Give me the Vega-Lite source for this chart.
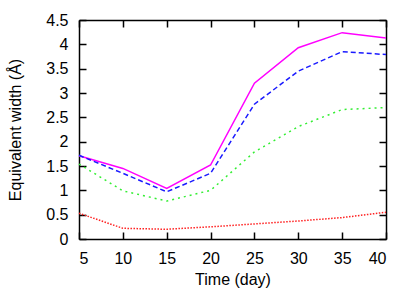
{
  "$schema": "https://vega.github.io/schema/vega-lite/v6.json",
  "width": 307,
  "height": 219,
  "autosize": {"type": "none"},
  "padding": {"left": 79, "top": 20, "right": 29, "bottom": 52},
  "background": "white",
  "config": {
    "view": {"stroke": null},
    "axis": {
      "grid": false,
      "domainColor": "black",
      "tickColor": "black",
      "tickSize": -7,
      "domainWidth": 1.5,
      "tickWidth": 1.5,
      "labelFont": "Liberation Sans",
      "labelFontSize": 16,
      "labelColor": "black",
      "titleFont": "Liberation Sans",
      "titleFontSize": 16,
      "titleFontWeight": "normal",
      "titleColor": "black"
    }
  },
  "data": {
    "values": [
      {"series": "S1", "day": 5, "ew": 1.71},
      {"series": "S1", "day": 10, "ew": 1.45},
      {"series": "S1", "day": 15, "ew": 1.04},
      {"series": "S1", "day": 20, "ew": 1.52},
      {"series": "S1", "day": 25, "ew": 3.2},
      {"series": "S1", "day": 30, "ew": 3.93},
      {"series": "S1", "day": 35, "ew": 4.24},
      {"series": "S1", "day": 40, "ew": 4.13},
      {"series": "S2", "day": 5, "ew": 1.72},
      {"series": "S2", "day": 10, "ew": 1.35},
      {"series": "S2", "day": 15, "ew": 0.97},
      {"series": "S2", "day": 20, "ew": 1.35},
      {"series": "S2", "day": 25, "ew": 2.77},
      {"series": "S2", "day": 30, "ew": 3.45},
      {"series": "S2", "day": 35, "ew": 3.85},
      {"series": "S2", "day": 40, "ew": 3.79},
      {"series": "S3", "day": 5, "ew": 1.54},
      {"series": "S3", "day": 10, "ew": 0.99},
      {"series": "S3", "day": 15, "ew": 0.78},
      {"series": "S3", "day": 20, "ew": 1.0},
      {"series": "S3", "day": 25, "ew": 1.79},
      {"series": "S3", "day": 30, "ew": 2.31},
      {"series": "S3", "day": 35, "ew": 2.66},
      {"series": "S3", "day": 40, "ew": 2.7},
      {"series": "S4", "day": 5, "ew": 0.53},
      {"series": "S4", "day": 10, "ew": 0.22},
      {"series": "S4", "day": 15, "ew": 0.2},
      {"series": "S4", "day": 20, "ew": 0.25},
      {"series": "S4", "day": 25, "ew": 0.31},
      {"series": "S4", "day": 30, "ew": 0.37},
      {"series": "S4", "day": 35, "ew": 0.44},
      {"series": "S4", "day": 40, "ew": 0.55}
    ]
  },
  "resolve": {"axis": {"x": "independent", "y": "independent"}},
  "layer": [
    {
      "transform": [{"filter": "datum.series === 'S1'"}],
      "mark": {"type": "line", "strokeWidth": 1.5, "color": "#ff00ff"},
      "encoding": {
        "x": {
          "field": "day", "type": "quantitative",
          "scale": {"domain": [5, 40], "nice": false, "zero": false},
          "axis": {
            "orient": "bottom", "title": "Time (day)",
            "tickCount": 7, "format": "d",
            "labelBaseline": "alphabetic", "labelPadding": 31,
            "titleX": 153.5, "titleY": 45, "titleBaseline": "alphabetic", "titleAlign": "center"
          }
        },
        "y": {
          "field": "ew", "type": "quantitative",
          "scale": {"domain": [0, 4.5], "nice": false},
          "axis": {
            "orient": "left", "title": "Equivalent width (Å)",
            "tickCount": 9, "format": "~g",
            "labelPadding": 18, "labelBaseline": "middle",
            "titleX": -64, "titleY": 109.5, "titleAngle": -90, "titleBaseline": "middle", "titleAlign": "center"
          }
        }
      }
    },
    {
      "transform": [{"filter": "datum.series === 'S2'"}],
      "mark": {"type": "line", "strokeWidth": 1.5, "color": "#1a1aff", "strokeDash": [5, 3]},
      "encoding": {
        "x": {"field": "day", "type": "quantitative", "axis": null},
        "y": {"field": "ew", "type": "quantitative", "axis": null}
      }
    },
    {
      "transform": [{"filter": "datum.series === 'S3'"}],
      "mark": {"type": "line", "strokeWidth": 1.5, "color": "#33ee33", "strokeDash": [2, 4]},
      "encoding": {
        "x": {"field": "day", "type": "quantitative", "axis": null},
        "y": {"field": "ew", "type": "quantitative", "axis": null}
      }
    },
    {
      "transform": [{"filter": "datum.series === 'S4'"}],
      "mark": {"type": "line", "strokeWidth": 1.5, "color": "#ff2020", "strokeDash": [1.5, 1.5]},
      "encoding": {
        "x": {"field": "day", "type": "quantitative", "axis": null},
        "y": {"field": "ew", "type": "quantitative", "axis": null}
      }
    },
    {
      "mark": {"type": "line", "opacity": 0},
      "encoding": {
        "x": {
          "field": "day", "type": "quantitative",
          "axis": {"orient": "top", "title": null, "labels": false, "tickCount": 7}
        },
        "y": {
          "field": "ew", "type": "quantitative",
          "axis": {"orient": "right", "title": null, "labels": false, "tickCount": 9}
        },
        "detail": {"field": "series"}
      }
    }
  ]
}
